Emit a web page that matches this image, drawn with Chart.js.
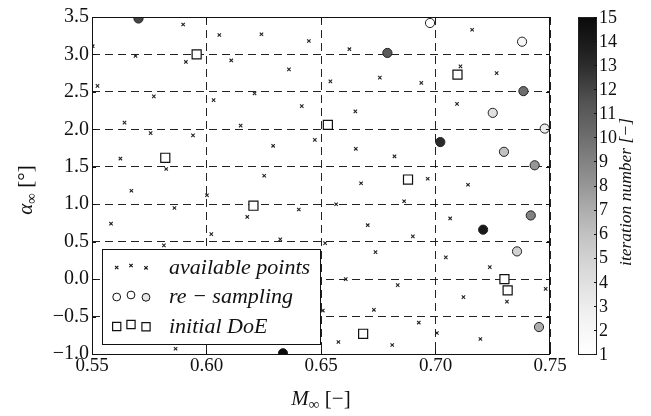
<!DOCTYPE html>
<html>
<head>
<meta charset="utf-8">
<script src="https://cdn.jsdelivr.net/npm/chart.js@4.4.0/dist/chart.umd.min.js"></script>
<style>
  html, body { margin: 0; padding: 0; background: #fff; }
  #wrap { width: 651px; height: 416px; }
</style>
</head>
<body>
<div id="wrap"><canvas id="doeChart" width="651" height="416"></canvas></div>
<script>
// pool of available samples (Mach number, angle of attack)
const availM = [
  0.5898, 0.6056, 0.5690, 0.5910, 0.6108, 0.5524, 0.5770, 0.6031, 0.6210, 0.5642,
  0.5756, 0.5941, 0.6149, 0.5624, 0.5824, 0.5503, 0.6240, 0.6447, 0.6624, 0.6360,
  0.6541, 0.6757, 0.6938, 0.6416, 0.6650, 0.6473, 0.6291, 0.6652, 0.6821, 0.6252,
  0.6966, 0.7160, 0.7109, 0.7267, 0.7094, 0.5672, 0.6002, 0.5860, 0.5583, 0.6178,
  0.6021, 0.5814, 0.5865, 0.6675, 0.6566, 0.6863, 0.6403, 0.6704, 0.6901, 0.6322,
  0.6518, 0.6738, 0.6608, 0.6835, 0.6508, 0.6731, 0.6927, 0.6576, 0.6811, 0.7142,
  0.7064, 0.7045, 0.7237, 0.7481, 0.7122, 0.7312, 0.7006, 0.7196
];
const availAlpha = [
  3.40, 3.26, 2.98, 2.90, 2.92, 2.58, 2.44, 2.39, 2.48, 2.09,
  1.95, 1.92, 2.05, 1.61, 1.47, 3.11, 3.27, 3.18, 3.07, 2.80,
  2.64, 2.69, 2.62, 2.31, 2.24, 1.86, 1.78, 1.74, 1.64, 1.38,
  1.34, 3.33, 2.84, 2.75, 2.34, 1.18, 1.12, 0.95, 0.74, 0.83,
  0.60, 0.45, -0.93, 1.28, 1.00, 1.04, 0.93, 0.72, 0.57, 0.53,
  0.48, 0.36, 0.00, -0.08, -0.42, -0.41, -0.58, -0.84, -0.88, 1.26,
  0.81, 0.29, 0.16, -0.13, -0.24, -0.30, -0.72, -0.80
];

// points added by re-sampling, with the iteration they came from
const resampM     = [0.6976, 0.7378, 0.7477, 0.7250, 0.7356, 0.7299, 0.7452, 0.7433, 0.7416, 0.7384, 0.6790, 0.5703, 0.7021, 0.7208, 0.6334];
const resampAlpha = [3.42, 3.17, 2.01, 2.22, 0.37, 1.70, -0.64, 1.52, 0.85, 2.51, 3.02, 3.48, 1.83, 0.66, -0.99];
const resampIter  = [1, 2, 3, 4, 5, 6, 7, 8, 9, 10, 11, 12, 13, 14, 15];

// initial design of experiments
const doeM     = [0.5957, 0.5820, 0.6530, 0.7096, 0.6205, 0.6880, 0.6684, 0.7301, 0.7315];
const doeAlpha = [3.00, 1.62, 2.06, 2.73, 0.98, 1.33, -0.73, 0.00, -0.15];

const iterTicks = [1, 2, 3, 4, 5, 6, 7, 8, 9, 10, 11, 12, 13, 14, 15];
const legendLabels = ["available points", "re \u2212 sampling", "initial DoE"];

// grey colormap, white -> black
const greys = [
  [255, 255, 255], [240, 240, 240], [217, 217, 217], [189, 189, 189], [150, 150, 150],
  [115, 115, 115], [82, 82, 82], [37, 37, 37], [10, 10, 10]
];
function greyAt(t) {
  t = Math.max(0, Math.min(1, t));
  const f = t * (greys.length - 1);
  const i = Math.min(Math.floor(f), greys.length - 2);
  const u = f - i;
  const c = greys[i].map((v, k) => Math.round(v + (greys[i + 1][k] - v) * u));
  return `rgb(${c[0]},${c[1]},${c[2]})`;
}
const iterMin = iterTicks[0];
const iterMax = iterTicks[iterTicks.length - 1];
const iterColor = (it) => greyAt((it - iterMin) / (iterMax - iterMin));

const SERIF = '"Liberation Serif", "DejaVu Serif", serif';
const minus = (s) => s.replace("-", "\u2212");

const toXY = (xs, ys) => xs.map((x, i) => ({ x: x, y: ys[i] }));

// frame, inward ticks, colorbar, axis titles and legend
const extras = {
  id: "extras",
  afterDraw(chart) {
    const ctx = chart.ctx;
    const a = chart.chartArea;
    const xs = chart.scales.x, ys = chart.scales.y;
    ctx.save();

    // axes frame
    ctx.strokeStyle = "#111";
    ctx.lineWidth = 1;
    ctx.setLineDash([]);
    ctx.strokeRect(a.left + 0.5, a.top + 0.5, a.right - a.left - 1, a.bottom - a.top);

    // inward tick marks on all four sides
    ctx.beginPath();
    xs.ticks.forEach((t) => {
      const px = Math.round(xs.getPixelForValue(t.value)) + 0.5;
      ctx.moveTo(px, a.bottom); ctx.lineTo(px, a.bottom - 4);
      ctx.moveTo(px, a.top); ctx.lineTo(px, a.top + 4);
    });
    ys.ticks.forEach((t) => {
      const py = Math.round(ys.getPixelForValue(t.value)) + 0.5;
      ctx.moveTo(a.left, py); ctx.lineTo(a.left + 4, py);
      ctx.moveTo(a.right, py); ctx.lineTo(a.right - 4, py);
    });
    ctx.stroke();

    // colorbar
    const cb = { left: 578, right: 597, top: a.top, bottom: a.bottom };
    const grad = ctx.createLinearGradient(0, cb.bottom, 0, cb.top);
    for (let i = 0; i <= 20; i++) grad.addColorStop(i / 20, greyAt(i / 20));
    ctx.fillStyle = grad;
    ctx.fillRect(cb.left, cb.top, cb.right - cb.left, cb.bottom - cb.top);
    ctx.strokeStyle = "#222";
    ctx.strokeRect(cb.left + 0.5, cb.top + 0.5, cb.right - cb.left - 1, cb.bottom - cb.top);
    const cbY = (v) => cb.bottom - (v - iterMin) / (iterMax - iterMin) * (cb.bottom - cb.top);
    ctx.fillStyle = "#111";
    ctx.font = "18px " + SERIF;
    ctx.textAlign = "left";
    ctx.textBaseline = "middle";
    ctx.beginPath();
    iterTicks.forEach((v) => {
      const py = Math.round(cbY(v)) + 0.5;
      ctx.moveTo(cb.right - 3, py); ctx.lineTo(cb.right, py);
      ctx.fillText(String(v), cb.right + 2, cbY(v) + 1);
    });
    ctx.strokeStyle = "#111";
    ctx.stroke();

    // colorbar title
    ctx.save();
    ctx.translate(631, 192);
    ctx.rotate(-Math.PI / 2);
    ctx.font = "italic 17.5px " + SERIF;
    ctx.textAlign = "center";
    ctx.textBaseline = "alphabetic";
    ctx.fillText("iteration number [\u2212]", 0, 0);
    ctx.restore();

    // x axis title: M_inf [-]
    drawSubTitle(ctx, "M", "\u221E", " [\u2212]", (a.left + a.right) / 2, 405, 0);
    // y axis title: alpha_inf [deg]
    drawSubTitle(ctx, "\u03B1", "\u221E", " [\u00B0]", 32, 190, -Math.PI / 2);

    // legend
    const lg = { left: 102, top: 249, right: 320, bottom: 344 };
    ctx.fillStyle = "#fff";
    ctx.fillRect(lg.left, lg.top, lg.right - lg.left, lg.bottom - lg.top);
    ctx.strokeStyle = "#111";
    ctx.lineWidth = 1;
    ctx.strokeRect(lg.left + 0.5, lg.top + 0.5, lg.right - lg.left, lg.bottom - lg.top);

    const rows = [267, 296.5, 326];
    const mx = [116.7, 131, 146];
    const dy = [0.5, -1.5, 0.8];
    const sets = chart.data.datasets;
    const legendFills = [
      ["#222", "#222", "#222"],
      [iterColor(1), iterColor(1), iterColor(3.5)],
      ["#fff", "#fff", "#fff"]
    ];
    sets.forEach((ds, r) => {
      mx.forEach((x, k) => {
        ctx.fillStyle = legendFills[r][k];
        ctx.strokeStyle = "#111";
        ctx.lineWidth = ds.pointBorderWidth;
        Chart.helpers.drawPoint(ctx, {
          pointStyle: ds.pointStyle,
          radius: (ds.legendRadius || ds.pointRadius),
          rotation: 0,
          borderWidth: ds.pointBorderWidth
        }, x, rows[r] + dy[k]);
      });
    });
    ctx.fillStyle = "#111";
    ctx.font = "italic 22px " + SERIF;
    ctx.textAlign = "left";
    ctx.textBaseline = "middle";
    legendLabels.forEach((t, r) => ctx.fillText(t, 169, rows[r] + 1));

    ctx.restore();
  }
};

// main symbol in italic with a small lowered subscript, then upright unit
function drawSubTitle(ctx, sym, sub, unit, cx, cy, rot) {
  ctx.save();
  ctx.translate(cx, cy);
  ctx.rotate(rot);
  ctx.fillStyle = "#111";
  ctx.textBaseline = "alphabetic";
  ctx.textAlign = "left";
  const fMain = "italic 21px " + SERIF, fSub = "15px " + SERIF, fUnit = "21px " + SERIF;
  ctx.font = fMain; const w1 = ctx.measureText(sym).width;
  ctx.font = fSub; const w2 = ctx.measureText(sub).width;
  ctx.font = fUnit; const w3 = ctx.measureText(unit).width;
  let x = -(w1 + w2 + w3) / 2;
  ctx.font = fMain; ctx.fillText(sym, x, 0); x += w1;
  ctx.font = fSub; ctx.fillText(sub, x, 4); x += w2;
  ctx.font = fUnit; ctx.fillText(unit, x, 0);
  ctx.restore();
}

const chart = new Chart(document.getElementById("doeChart"), {
  type: "scatter",
  data: {
    datasets: [
      {
        label: "available points",
        data: toXY(availM, availAlpha),
        pointStyle: "crossRot",
        pointRadius: 2.4,
        pointBorderWidth: 1.1,
        pointBorderColor: "#222",
        pointBackgroundColor: "#222",
        order: 3
      },
      {
        label: "re-sampling",
        data: toXY(resampM, resampAlpha),
        pointStyle: "circle",
        pointRadius: 4.6,
        pointBorderWidth: 1,
        pointBorderColor: "#222",
        pointBackgroundColor: resampIter.map(iterColor),
        legendRadius: 3.9,
        clip: 0,
        order: 1
      },
      {
        label: "initial DoE",
        data: toXY(doeM, doeAlpha),
        pointStyle: "rect",
        pointRadius: 6.4,
        pointBorderWidth: 1.2,
        pointBorderColor: "#111",
        pointBackgroundColor: "#fff",
        legendRadius: 5.8,
        order: 2
      }
    ]
  },
  options: {
    responsive: false,
    animation: false,
    events: [],
    layout: { padding: { top: 17, right: 101, left: 0, bottom: 0 } },
    plugins: {
      legend: { display: false },
      tooltip: { enabled: false }
    },
    scales: {
      x: {
        type: "linear",
        min: 0.55,
        max: 0.75,
        afterFit: (s) => { s.height = 62; },
        afterBuildTicks: (s) => {
          s.ticks = [0.55, 0.60, 0.65, 0.70, 0.75].map((v) => ({ value: v }));
        },
        ticks: {
          padding: 1,
          color: "#111",
          font: { family: SERIF, size: 19 },
          callback: (v) => Number(v).toFixed(2)
        },
        grid: { color: "#222", lineWidth: 1, drawTicks: false },
        border: { display: false, dash: [8, 5] }
      },
      y: {
        type: "linear",
        min: -1.0,
        max: 3.5,
        afterFit: (s) => { s.width = 92; },
        afterBuildTicks: (s) => {
          const t = [];
          for (let v = -1.0; v <= 3.5 + 1e-9; v += 0.5) t.push({ value: Math.round(v * 10) / 10 });
          s.ticks = t;
        },
        ticks: {
          padding: 3,
          color: "#111",
          font: { family: SERIF, size: 20 },
          callback: (v) => minus(Number(v).toFixed(1))
        },
        grid: { color: "#222", lineWidth: 1, drawTicks: false },
        border: { display: false, dash: [8, 5] }
      }
    }
  },
  plugins: [extras]
});
</script>
</body>
</html>
